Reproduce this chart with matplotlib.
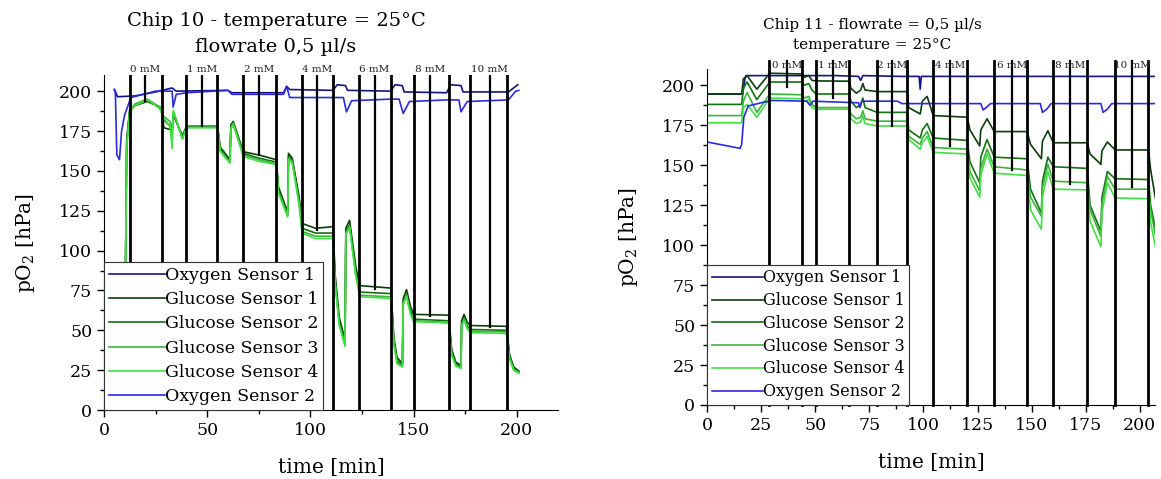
import numpy as np
import matplotlib.pyplot as plt
from matplotlib.ticker import MultipleLocator

plt.rcParams['font.family'] = ['DejaVu Serif']
plt.rcParams['mathtext.fontset'] = 'dejavuserif'

labels = ['Oxygen Sensor 1', 'Glucose Sensor 1', 'Glucose Sensor 2',
          'Glucose Sensor 3', 'Glucose Sensor 4', 'Oxygen Sensor 2']
colors = ['#14147e', '#0d3d0d', '#127212', '#3cb43c', '#40e040', '#2a2ae0']
conc = ['0 mM', '1 mM', '2 mM', '4 mM', '6 mM', '8 mM', '10 mM']

# ---------------- chip 10 ----------------
t10_o1 = [5, 5.5, 6.5, 15, 25, 33, 35, 60, 62, 87,
          88.5, 90, 111, 113, 117, 118, 139, 141, 144.5, 145.5,
          166, 168, 173, 174, 196, 200.5]
v10_o1 = [201, 200, 196.5, 197, 199.5, 202, 200, 200.5, 199, 199,
          203, 201, 200.5, 204, 203.5, 200.5, 200, 204, 203.5, 199.5,
          199, 204, 203.5, 199.5, 199.5, 204]

t10_o2 = [5, 5.5, 6.2, 7.5, 8.5, 10, 13, 25, 33, 33.5,
          35, 40, 60, 62, 87, 88.5, 90, 116, 117.5, 120,
          139, 143, 145, 148, 166, 172, 173, 176, 196, 199.5,
          201]
v10_o2 = [201, 199, 160, 157, 175, 185, 196, 200, 200, 190,
          198, 199, 200.5, 198, 198, 203, 196, 196, 187, 194,
          195, 195, 186, 193.5, 194.5, 194.5, 187, 193.5, 194.5, 200,
          200.5]

t10_g = [9.5, 10.2, 11, 12.5, 15, 21, 27, 28.2,
         29, 32, 33, 33.6, 38, 40,
         55,
         56.3, 61, 61.5, 62.6, 67.5, 75, 83.5,
         84.5, 89, 89.4, 91.2, 94.5, 96, 102.5, 111,
         112, 114, 116.8, 117.2, 119, 122, 124, 139,
         140.5, 142, 144.6, 145, 146.6, 148.5, 150, 167,
         168.5, 170.5, 173, 173.3, 174.5, 176, 177.7, 195,
         196.5, 198.5, 200.5, 201]
v10_g1 = [0, 60, 170, 189, 191, 193.5, 190, 187,
          177, 176, 175, 185, 172, 178,
          178,
          165, 157, 179, 181, 162, 160, 157,
          140, 124, 161, 158, 134, 117, 114, 115,
          85, 58, 44, 114, 119, 90, 78, 76.5,
          45, 33, 29, 70, 75.5, 65, 60, 59.5,
          38, 30, 28, 56, 60, 55, 53, 52.5,
          35, 27, 25, 24.5]
v10_g2 = [0, 60, 168, 188, 191, 194, 190, 187,
          182, 178, 176, 186, 171, 177.5,
          177.5,
          164, 156, 178, 180, 161, 158, 155.5,
          138, 123, 159, 157, 132, 114, 111, 111,
          82, 55, 42, 112, 116, 87, 74, 73,
          43, 31, 28, 68, 72.5, 62, 57, 56,
          36, 29, 27, 54, 58, 53, 50.5, 50,
          34, 26, 24.5, 24]
v10_g3 = [0, 60, 166, 188, 192, 195, 190, 186,
          184, 181, 172, 187, 170, 177.5,
          177.5,
          163, 155, 177, 180, 160, 157, 154.5,
          137, 122, 158, 156, 130, 112, 109, 109,
          80, 54, 41, 111, 115, 85, 72, 71,
          42, 30, 27.5, 67, 72, 61, 56, 55,
          35, 28, 26.5, 53, 57, 52, 49.5, 49,
          33, 25.5, 24, 23.5]
v10_g4 = [0, 60, 165, 187, 191, 194.5, 189, 185,
          183, 178, 164, 188, 170, 177,
          177,
          162, 155, 176, 179, 159, 156, 154,
          136, 121, 157, 155, 129, 111, 107.5, 107.5,
          79, 53, 40, 110, 114.5, 84, 71, 70,
          41, 29, 27, 66, 71.5, 60, 55.5, 54.5,
          34, 27.5, 26, 52.5, 56.5, 51, 48.5, 48,
          32, 25, 23.5, 23]

# concentration step markers: start, sample point, end
t10_start = [12.4, 39.8, 67.5, 96.1, 123.8, 150.0, 177.2]
t10_mid = [20.0, 47.4, 75.2, 103.4, 131.1, 157.8, 186.9]
t10_end = [28.2, 54.9, 83.5, 111.2, 139.3, 167.0, 195.1]
v10_mid = [194, 178, 160, 113, 76, 59, 52]

# ---------------- chip 11 ----------------
t11_o1 = [0, 16.5, 17.5, 18, 60, 70, 71, 72, 90, 98,
          98.5, 99, 207.5]
v11_o1 = [194.5, 194.5, 204, 206, 206, 205.5, 203, 206, 205.5, 205.5,
          197.5, 205.5, 205.5]

t11_o2 = [0, 15.3, 16, 17, 19, 25, 30, 46, 47.6, 49,
          70, 70.7, 71.5, 88, 90, 126.5, 127.6, 129, 131, 154,
          155, 157, 159, 182, 183, 185, 187, 207.5]
v11_o2 = [164.5, 160.5, 163, 180, 187, 189, 190.5, 190, 187.5, 190,
          189, 186, 190, 190, 188.5, 188.5, 184.5, 186, 188.5, 188.5,
          183, 185, 188.5, 188.5, 183, 185, 188.5, 188.5]

t11_g = [0, 16, 16.8, 18.5, 23, 29, 43.9,
         45, 47, 48.5, 50.4, 65.6,
         66.5, 69, 71, 72, 73, 78.6, 92.5,
         93.2, 98.5, 99.5, 101.7, 104.5, 120.2,
         121.5, 126, 126.5, 129.4, 132.7, 147.9,
         149.5, 154.5, 155, 157.5, 160, 175.7,
         177, 182, 182.5, 185, 188.6, 204,
         205, 207.5]
v11_g1 = [194.5, 194.5, 204, 206, 197.5, 207.5, 207,
          205, 206, 203, 202.7, 202.5,
          198, 195, 197, 201, 197, 196, 196,
          186, 182, 190, 193, 181, 180,
          172, 162, 172, 179, 171, 171,
          163, 154, 165, 171.5, 164, 164,
          157, 150.5, 159, 164.5, 159.5, 159.5,
          147, 127]
v11_g2 = [188, 188, 198, 202, 191, 202, 202,
          200, 201, 197, 194.5, 194.5,
          190, 186, 188, 192, 186, 183, 183,
          172, 167, 172, 176, 167, 165.5,
          152, 139, 155, 166, 155, 154,
          135, 120, 140, 155, 149, 148,
          125, 108.5, 130, 146, 141.5, 141,
          125, 108]
v11_g3 = [181, 181, 190, 195.5, 183, 194.5, 194,
          192, 193, 188, 186, 186,
          182, 179, 180, 184, 179, 177.5, 177.5,
          168, 163, 167, 171, 161, 160,
          146, 134, 148, 160, 149, 147,
          130, 118, 136, 150.5, 140, 139,
          122, 105.5, 126, 143, 135, 135,
          122, 104]
v11_g4 = [176.5, 176.5, 186, 188, 180, 192, 191.5,
          190, 191, 186, 185, 185,
          179, 176, 177, 181, 176, 174.5, 174.5,
          166, 160, 164, 168, 158, 157,
          142, 130, 144, 157, 145, 143.5,
          122, 110, 130, 146, 135, 134.5,
          115, 99, 120, 139, 129.5, 129,
          114, 97]

t11_start = [28.7, 50.4, 78.6, 104.5, 132.7, 160.0, 188.6]
t11_mid = [37.0, 58.3, 85.5, 112.3, 141.0, 167.8, 196.5]
t11_end = [43.9, 65.6, 92.5, 120.2, 147.9, 175.7, 203.9]
v11_mid = [199, 192, 174.5, 162, 147, 138.5, 136.6]

fig = plt.figure(figsize=(11.61, 4.79), dpi=100)
ax1 = fig.add_axes([0.0896, 0.144, 0.391, 0.699])
ax2 = fig.add_axes([0.609, 0.1545, 0.386, 0.701])


def draw(ax, series, starts, mids, ends, vmid, line_top, lab_y, clip, legsize, legspace):
    for (t, v), lab, c in zip(series, labels, colors):
        ax.plot(t, v, color=c, lw=1.2, label=lab, zorder=2)
    for a, b in zip(starts, ends):
        ax.plot([a, a], [0, line_top], color='black', lw=2, zorder=3, clip_on=clip)
        ax.plot([b, b], [0, line_top], color='black', lw=2, zorder=3, clip_on=clip)
    for m, vm, txt in zip(mids, vmid, conc):
        ax.plot([m, m], [vm, line_top], color='black', lw=1.6, zorder=3, clip_on=clip)
        ax.text(m, lab_y, txt, fontsize=7.5, ha='center', va='center',
                color='#222222', zorder=4, clip_on=False)
    for s in ['top', 'right']:
        ax.spines[s].set_visible(False)
    ax.tick_params(which='both', direction='out', labelsize=12.5, width=1)
    ax.tick_params(which='major', length=5)
    ax.tick_params(which='minor', length=3)
    ax.yaxis.set_major_locator(MultipleLocator(25))
    ax.yaxis.set_minor_locator(MultipleLocator(12.5))
    ax.set_xlabel('time [min]', fontsize=14.5, labelpad=14)
    ax.set_ylabel('pO$_2$ [hPa]', fontsize=14.5, labelpad=16)
    leg = ax.legend(loc='lower left', bbox_to_anchor=(0, 0), borderaxespad=0,
                    fontsize=legsize, frameon=True, fancybox=False, framealpha=1,
                    edgecolor='#333333', handlelength=3.2, handletextpad=0,
                    labelspacing=legspace, borderpad=0.3)
    leg.set_zorder(10)
    leg.get_frame().set_linewidth(0.8)


s10 = [(t10_o1, v10_o1), (t10_g, v10_g1), (t10_g, v10_g2), (t10_g, v10_g3),
       (t10_g, v10_g4), (t10_o2, v10_o2)]
draw(ax1, s10, t10_start, t10_mid, t10_end, v10_mid, 210, 213.5, True, 12.5, 0.41)
ax1.set_xlim(0, 220)
ax1.set_ylim(0, 210)
ax1.xaxis.set_major_locator(MultipleLocator(50))
ax1.xaxis.set_minor_locator(MultipleLocator(25))

s11 = [(t11_o1, v11_o1), (t11_g, v11_g1), (t11_g, v11_g2), (t11_g, v11_g3),
       (t11_g, v11_g4), (t11_o2, v11_o2)]
draw(ax2, s11, t11_start, t11_mid, t11_end, v11_mid, 215, 212.5, False, 11.5, 0.36)
ax2.set_xlim(0, 207.1)
ax2.set_ylim(0, 210)
ax2.xaxis.set_major_locator(MultipleLocator(25))
ax2.xaxis.set_minor_locator(MultipleLocator(12.5))

fig.text(276 / 1161, 1 - 34 / 479, 'Chip 10 - temperature = 25°C\nflowrate 0,5 µl/s',
         ha='center', va='center', fontsize=14, linespacing=1.6)
fig.text(872 / 1161, 1 - 35 / 479, 'Chip 11 - flowrate = 0,5 µl/s\ntemperature = 25°C',
         ha='center', va='center', fontsize=11, linespacing=1.6)

fig.savefig('out.png', dpi=100)
